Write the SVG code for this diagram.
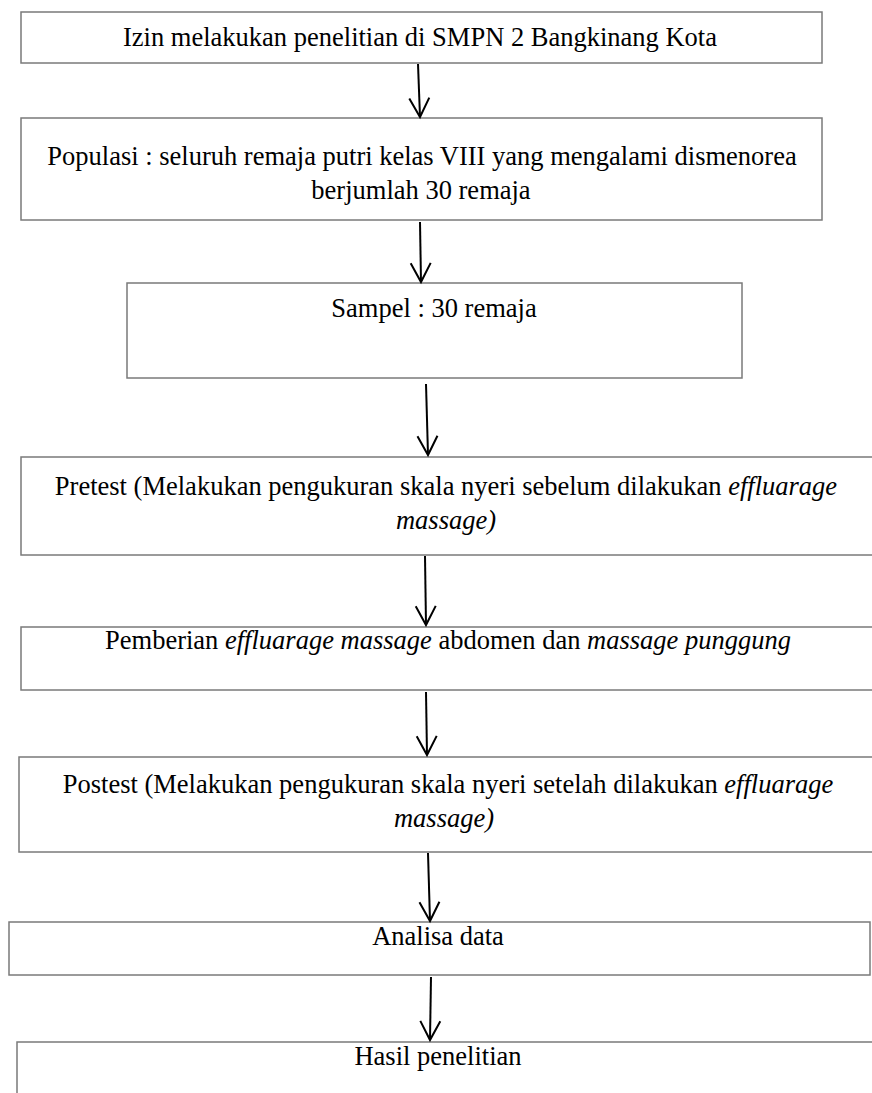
<svg xmlns="http://www.w3.org/2000/svg" width="872" height="1093" viewBox="0 0 872 1093">
<style>
.box{fill:#fff;stroke:#7a7a7a;stroke-width:1.5}
.t{font-family:"Liberation Serif","Times New Roman",serif;font-size:26.5px;fill:#000;text-anchor:middle}
.i{font-style:italic}
.c{stroke:#000;stroke-width:2;fill:none}
</style>
<defs>
<marker id="ah" markerUnits="userSpaceOnUse" markerWidth="24" markerHeight="24" viewBox="-20 -12 22 24" refX="0" refY="0" orient="auto">
<path d="M-19,-10 L0,0 L-19,10" fill="none" stroke="#000" stroke-width="2"/>
</marker>
</defs>
<rect width="872" height="1093" fill="#fff"/>
<g id="n1"><rect class="box" x="21" y="12" width="801" height="51"/><text class="t" x="420" y="46">Izin melakukan penelitian di SMPN 2 Bangkinang Kota</text></g>
<g id="n2"><rect class="box" x="21" y="118" width="801" height="102"/><text class="t" x="422" y="165">Populasi : seluruh remaja putri kelas VIII yang mengalami dismenorea</text><text class="t" x="421" y="199">berjumlah 30 remaja</text></g>
<g id="n3"><rect class="box" x="127" y="283" width="615" height="95"/><text class="t" x="434" y="317">Sampel : 30 remaja</text></g>
<g id="n4"><rect class="box" x="21" y="457" width="870" height="98"/><text class="t" x="446" y="495">Pretest (Melakukan pengukuran skala nyeri sebelum dilakukan <tspan class="i">effluarage</tspan></text><text class="t i" x="446" y="529">massage)</text></g>
<g id="n5"><rect class="box" x="21" y="627" width="870" height="63"/><text class="t" x="448" y="649">Pemberian <tspan class="i">effluarage massage</tspan> abdomen dan <tspan class="i">massage punggung</tspan></text></g>
<g id="n6"><rect class="box" x="19" y="757" width="872" height="95"/><text class="t" x="448" y="793">Postest (Melakukan pengukuran skala nyeri setelah dilakukan <tspan class="i">effluarage</tspan></text><text class="t i" x="444" y="827">massage)</text></g>
<g id="n7"><rect class="box" x="9" y="922" width="861" height="53"/><text class="t" x="438" y="945">Analisa data</text></g>
<g id="n8"><rect class="box" x="17" y="1042" width="880" height="80"/><text class="t" x="438" y="1065">Hasil penelitian</text></g>
<g id="connectors">
<line class="c" x1="418" y1="64" x2="420" y2="117" marker-end="url(#ah)"/>
<line class="c" x1="420" y1="222" x2="421" y2="282" marker-end="url(#ah)"/>
<line class="c" x1="426" y1="384" x2="428" y2="455" marker-end="url(#ah)"/>
<line class="c" x1="425" y1="556" x2="426" y2="625" marker-end="url(#ah)"/>
<line class="c" x1="426" y1="692" x2="427" y2="755" marker-end="url(#ah)"/>
<line class="c" x1="428" y1="853" x2="430" y2="921" marker-end="url(#ah)"/>
<line class="c" x1="431" y1="977" x2="430" y2="1040" marker-end="url(#ah)"/>
</g>
</svg>
